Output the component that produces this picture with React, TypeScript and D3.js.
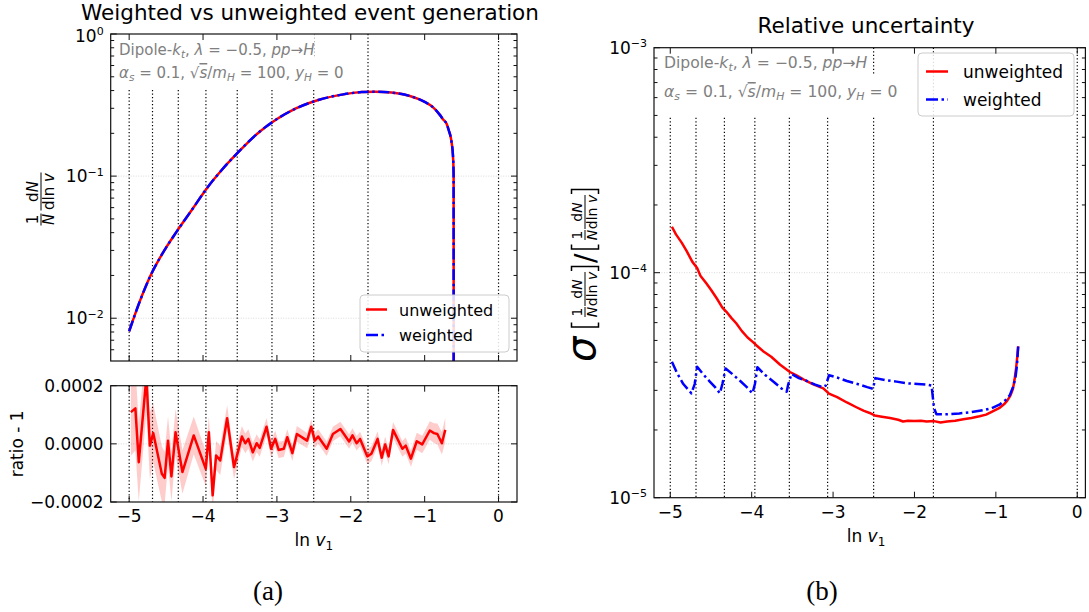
import React from "react";
import * as d3 from "d3";

// ---------------- data ----------------
const divisions = [-5.0, -4.684, -4.335, -3.961, -3.537, -3.067, -2.502, -1.767, 0];
const xTicks = [-5, -4, -3, -2, -1, 0];
const topYMajors = [1, 0.1, 0.01];
const topYExp = ["0", "\u22121", "\u22122"];
const ratioTicks = [-0.0002, 0, 0.0002];
const ratioTickLabels = ["\u22120.0002", "0.0000", "0.0002"];
const rightYMajors = [1e-3, 1e-4, 1e-5];
const rightYExp = ["\u22123", "\u22124", "\u22125"];
const seriesNames = ["unweighted", "weighted"];

// 1/N dN/dln v (both generations lie on top of each other)
const distUnweighted: [number, number][] = [
  [-5.0, 0.0081], [-4.85, 0.0134], [-4.72, 0.0195], [-4.55, 0.0285], [-4.36, 0.0405],
  [-4.15, 0.058], [-3.95, 0.0819], [-3.75, 0.11], [-3.52, 0.148], [-3.27, 0.198],
  [-3.02, 0.248], [-2.75, 0.298], [-2.44, 0.343], [-2.1, 0.376], [-1.85, 0.39],
  [-1.67, 0.393], [-1.45, 0.387], [-1.2, 0.366], [-1.0, 0.333], [-0.889, 0.306],
  [-0.8, 0.272], [-0.743, 0.248], [-0.7, 0.232], [-0.675, 0.211], [-0.64, 0.179],
  [-0.616, 0.137], [-0.608, 0.102], [-0.607, 0.004],
];
const distWeighted: [number, number][] = [
  [-5.0, 0.0081], [-4.85, 0.0134], [-4.72, 0.0195], [-4.55, 0.0285], [-4.36, 0.0405],
  [-4.15, 0.058], [-3.95, 0.0819], [-3.75, 0.11], [-3.52, 0.148], [-3.27, 0.198],
  [-3.02, 0.248], [-2.75, 0.298], [-2.44, 0.343], [-2.1, 0.376], [-1.85, 0.39],
  [-1.67, 0.393], [-1.45, 0.387], [-1.2, 0.366], [-1.0, 0.333], [-0.889, 0.306],
  [-0.8, 0.272], [-0.743, 0.248], [-0.7, 0.232], [-0.675, 0.211], [-0.64, 0.179],
  [-0.616, 0.137], [-0.608, 0.102], [-0.607, 0.004],
];

// ratio - 1 : [ln v, value, uncertainty]
const ratioPoints: [number, number, number][] = [
  [-4.977, 1.09e-4, 1.5e-4], [-4.916, 1.22e-4, 1.45e-4], [-4.87, -0.63e-4, 1.35e-4],
  [-4.767, 2.3e-4, 1.25e-4], [-4.72, -0.06e-4, 1.15e-4], [-4.674, 0.37e-4, 1.0e-4],
  [-4.558, -1.03e-4, 0.95e-4], [-4.52, -1.17e-4, 0.9e-4], [-4.474, 0.11e-4, 0.85e-4],
  [-4.428, -1.12e-4, 0.85e-4], [-4.372, 0.4e-4, 0.8e-4], [-4.279, -0.97e-4, 0.75e-4],
  [-4.126, 0.29e-4, 0.65e-4], [-3.963, -0.86e-4, 0.6e-4], [-3.921, 0.4e-4, 0.55e-4],
  [-3.87, -1.77e-4, 0.55e-4], [-3.823, -0.4e-4, 0.5e-4], [-3.767, -0.57e-4, 0.5e-4],
  [-3.674, 0.88e-4, 0.45e-4], [-3.581, -0.8e-4, 0.42e-4], [-3.474, 0.25e-4, 0.36e-4],
  [-3.428, 0.02e-4, 0.34e-4], [-3.386, 0.17e-4, 0.33e-4], [-3.326, -0.29e-4, 0.32e-4],
  [-3.274, 0.02e-4, 0.31e-4], [-3.233, -0.14e-4, 0.3e-4], [-3.14, 0.59e-4, 0.3e-4],
  [-3.079, -0.17e-4, 0.3e-4], [-3.023, 0.17e-4, 0.28e-4], [-2.977, -0.21e-4, 0.28e-4],
  [-2.907, -0.17e-4, 0.28e-4], [-2.86, 0.23e-4, 0.27e-4], [-2.791, -0.32e-4, 0.27e-4],
  [-2.73, 0.34e-4, 0.27e-4], [-2.628, 0.17e-4, 0.26e-4], [-2.591, 0.11e-4, 0.26e-4],
  [-2.535, 0.59e-4, 0.26e-4], [-2.488, 0.11e-4, 0.26e-4], [-2.442, 0.25e-4, 0.25e-4],
  [-2.326, -0.17e-4, 0.25e-4], [-2.242, 0.34e-4, 0.25e-4], [-2.14, 0.51e-4, 0.25e-4],
  [-2.023, 0.08e-4, 0.25e-4], [-1.977, 0.29e-4, 0.25e-4], [-1.921, 0.02e-4, 0.25e-4],
  [-1.874, 0.17e-4, 0.25e-4], [-1.777, -0.43e-4, 0.26e-4], [-1.721, -0.34e-4, 0.26e-4],
  [-1.637, 0.17e-4, 0.26e-4], [-1.581, -0.48e-4, 0.27e-4], [-1.535, -0.02e-4, 0.27e-4],
  [-1.488, -0.43e-4, 0.27e-4], [-1.428, 0.48e-4, 0.27e-4], [-1.302, -0.17e-4, 0.27e-4],
  [-1.256, -0.06e-4, 0.28e-4], [-1.186, -0.51e-4, 0.28e-4], [-1.107, 0.09e-4, 0.29e-4],
  [-1.033, -0.02e-4, 0.3e-4], [-0.93, 0.46e-4, 0.32e-4], [-0.874, 0.37e-4, 0.34e-4],
  [-0.828, 0.34e-4, 0.36e-4], [-0.767, 0.02e-4, 0.39e-4], [-0.721, 0.48e-4, 0.42e-4],
];

// relative uncertainty
const uncUnweighted: [number, number][] = [
  [-4.98, 1.6e-4], [-4.93, 1.48e-4], [-4.86, 1.36e-4], [-4.8, 1.25e-4], [-4.73, 1.12e-4],
  [-4.67, 1.05e-4], [-4.63, 9.7e-5], [-4.56, 9.0e-5], [-4.5, 8.4e-5], [-4.43, 7.7e-5],
  [-4.36, 7.0e-5], [-4.31, 6.7e-5], [-4.25, 6.3e-5], [-4.19, 5.96e-5], [-4.12, 5.5e-5],
  [-4.05, 5.15e-5], [-3.98, 4.9e-5], [-3.94, 4.75e-5], [-3.85, 4.45e-5], [-3.76, 4.23e-5],
  [-3.65, 3.9e-5], [-3.53, 3.62e-5], [-3.45, 3.5e-5], [-3.36, 3.35e-5], [-3.25, 3.2e-5],
  [-3.12, 3.06e-5], [-3.05, 2.9e-5], [-2.95, 2.8e-5], [-2.83, 2.65e-5], [-2.72, 2.53e-5],
  [-2.62, 2.43e-5], [-2.55, 2.38e-5], [-2.49, 2.32e-5], [-2.4, 2.29e-5], [-2.3, 2.26e-5],
  [-2.2, 2.22e-5], [-2.14, 2.18e-5], [-2.08, 2.2e-5], [-2.0, 2.19e-5], [-1.92, 2.2e-5],
  [-1.85, 2.18e-5], [-1.76, 2.19e-5], [-1.68, 2.16e-5], [-1.6, 2.18e-5], [-1.5, 2.2e-5],
  [-1.4, 2.23e-5], [-1.3, 2.26e-5], [-1.2, 2.3e-5], [-1.12, 2.34e-5], [-1.04, 2.42e-5],
  [-0.96, 2.5e-5], [-0.9, 2.6e-5], [-0.86, 2.7e-5], [-0.82, 2.85e-5], [-0.79, 3.05e-5],
  [-0.77, 3.35e-5], [-0.75, 3.8e-5], [-0.735, 4.3e-5], [-0.726, 4.7e-5],
];
const uncWeighted: [number, number][] = [
  [-4.98, 4.02e-5], [-4.92, 3.6e-5], [-4.84, 3.2e-5], [-4.74, 2.91e-5], [-4.7, 3.2e-5],
  [-4.67, 3.82e-5], [-4.6, 3.55e-5], [-4.52, 3.3e-5], [-4.45, 3.1e-5], [-4.39, 2.91e-5],
  [-4.36, 3.2e-5], [-4.32, 3.75e-5], [-4.24, 3.55e-5], [-4.14, 3.3e-5], [-4.06, 3.1e-5],
  [-3.99, 2.91e-5], [-3.96, 3.2e-5], [-3.93, 3.8e-5], [-3.83, 3.5e-5], [-3.72, 3.25e-5],
  [-3.63, 3.05e-5], [-3.57, 2.96e-5], [-3.55, 3.2e-5], [-3.51, 3.55e-5], [-3.42, 3.4e-5],
  [-3.32, 3.3e-5], [-3.22, 3.18e-5], [-3.13, 3.1e-5], [-3.09, 3.15e-5], [-3.05, 3.5e-5],
  [-2.95, 3.42e-5], [-2.83, 3.3e-5], [-2.7, 3.2e-5], [-2.58, 3.1e-5], [-2.51, 3.05e-5],
  [-2.48, 3.4e-5], [-2.36, 3.33e-5], [-2.22, 3.28e-5], [-2.08, 3.22e-5], [-1.96, 3.2e-5],
  [-1.85, 3.18e-5], [-1.79, 3.15e-5], [-1.76, 2.5e-5], [-1.73, 2.35e-5], [-1.6, 2.35e-5],
  [-1.45, 2.37e-5], [-1.3, 2.4e-5], [-1.15, 2.45e-5], [-1.05, 2.5e-5], [-0.95, 2.6e-5],
  [-0.88, 2.72e-5], [-0.83, 2.85e-5], [-0.79, 3.1e-5], [-0.76, 3.4e-5], [-0.74, 3.9e-5],
  [-0.726, 4.7e-5],
];

// ---------------- layout ----------------
const FONT = "DejaVu Sans, Verdana, sans-serif";
const RED = "#ff0000";
const BLUE = "#0000ff";
const GRAY_TXT = "#808080";
const DASHDOT = "11 3.5 2.5 3.5";
const MAJ = 6;
const MIN = 3.5;

const L = { x0: 110.7, x1: 517, top0: 34, top1: 361, r0: 385.7, r1: 502 };
const R = { x0: 654, x1: 1085.4, y0: 47.7, y1: 497.7 };

function logMinors(lo: number, hi: number): number[] {
  const out: number[] = [];
  for (let e = -6; e <= 1; e++) {
    for (let k = 2; k <= 9; k++) {
      const v = k * Math.pow(10, e);
      if (v > lo * 1.0001 && v < hi * 0.9999) out.push(v);
    }
  }
  return out;
}

function Frac({ cx, num, den, w, fs }: { cx: number; num: React.ReactNode; den: React.ReactNode; w: number; fs: number }) {
  return (
    <g>
      <text x={cx} y={-3} textAnchor="middle" fontSize={fs}>{num}</text>
      <line x1={cx - w / 2} x2={cx + w / 2} y1={0} y2={0} stroke="#000" strokeWidth={1} />
      <text x={cx} y={fs * 0.86} textAnchor="middle" fontSize={fs}>{den}</text>
    </g>
  );
}

function DistFrac({ c1, c2, fs, w1, w2 }: { c1: number; c2: number; fs: number; w1: number; w2: number }) {
  return (
    <g>
      <Frac cx={c1} w={w1} fs={fs} num="1" den={<tspan fontStyle="italic">N</tspan>} />
      <Frac
        cx={c2}
        w={w2}
        fs={fs}
        num={<>d<tspan fontStyle="italic">N</tspan></>}
        den={<>dln <tspan fontStyle="italic">v</tspan></>}
      />
    </g>
  );
}

function Bracket({ x, open }: { x: number; open: boolean }) {
  const h = 13.5;
  const d = open
    ? `M${x + 5.5},${-h} L${x + 1},${-h} L${x + 1},${h} L${x + 5.5},${h}`
    : `M${x + 1},${-h} L${x + 5.5},${-h} L${x + 5.5},${h} L${x + 1},${h}`;
  return <path d={d} fill="none" stroke="#000" strokeWidth={1.5} />;
}

function Annotation({ x, y1, y2, fs }: { x: number; y1: number; y2: number; fs: number }) {
  const sub = fs * 0.7;
  const dy = fs * 0.22;
  return (
    <g fill={GRAY_TXT} fontSize={fs}>
      <text x={x} y={y1}>
        Dipole-<tspan fontStyle="italic">k</tspan>
        <tspan fontStyle="italic" fontSize={sub} dy={dy}>t</tspan>
        <tspan dy={-dy}>{", "}</tspan>
        <tspan fontStyle="italic">λ</tspan>
        <tspan>{" = \u22120.5, "}</tspan>
        <tspan fontStyle="italic">pp</tspan>
        <tspan>→</tspan>
        <tspan fontStyle="italic">H</tspan>
      </text>
      <text x={x} y={y2}>
        <tspan fontStyle="italic">α</tspan>
        <tspan fontStyle="italic" fontSize={sub} dy={dy}>s</tspan>
        <tspan dy={-dy}>{" = 0.1, √"}</tspan>
        <tspan fontStyle="italic" textDecoration="overline">s</tspan>
        <tspan>/</tspan>
        <tspan fontStyle="italic">m</tspan>
        <tspan fontStyle="italic" fontSize={sub} dy={dy}>H</tspan>
        <tspan dy={-dy}>{" = 100, "}</tspan>
        <tspan fontStyle="italic">y</tspan>
        <tspan fontStyle="italic" fontSize={sub} dy={dy}>H</tspan>
        <tspan dy={-dy}>{" = 0"}</tspan>
      </text>
    </g>
  );
}

function XLabel({ cx, y }: { cx: number; y: number }) {
  return (
    <text x={cx} y={y} textAnchor="middle" fontSize={17}>
      ln <tspan fontStyle="italic">v</tspan>
      <tspan fontSize={12} dy={4}>1</tspan>
    </text>
  );
}

function Legend({ x, y, w, h, rowY, fs, lineX0, lineX1, textX }: any) {
  return (
    <g>
      <rect x={x} y={y} width={w} height={h} rx={4} fill="#fff" fillOpacity={0.85} stroke="#cccccc" strokeWidth={1} />
      <line x1={lineX0} x2={lineX1} y1={rowY[0]} y2={rowY[0]} stroke={RED} strokeWidth={2.5} />
      <text x={textX} y={rowY[0] + 6} fontSize={fs}>{seriesNames[0]}</text>
      <line x1={lineX0} x2={lineX1} y1={rowY[1]} y2={rowY[1]} stroke={BLUE} strokeWidth={2.5} strokeDasharray="12 3.5 2.5 3.5" />
      <text x={textX} y={rowY[1] + 6} fontSize={fs}>{seriesNames[1]}</text>
    </g>
  );
}

function LogLabel({ x, y, exp }: { x: number; y: number; exp: string }) {
  return (
    <text x={x} y={y + 6} textAnchor="end" fontSize={17}>
      10<tspan fontSize={11} dy={-6.5}>{exp}</tspan>
    </text>
  );
}

export default function App() {
  const xL = d3.scaleLinear().domain([-5.25, 0.25]).range([L.x0, L.x1]);
  const yTop = d3.scaleLog().domain([5e-3, 1]).range([L.top1, L.top0]);
  const yRat = d3.scaleLinear().domain([-0.0002, 0.0002]).range([L.r1, L.r0]);
  const xR = d3.scaleLinear().domain([-5.2, 0.1]).range([R.x0, R.x1]);
  const yR = d3.scaleLog().domain([1e-5, 1e-3]).range([R.y1, R.y0]);

  const distLine = d3.line<[number, number]>().x((d) => xL(d[0])).y((d) => yTop(d[1])).curve(d3.curveMonotoneX);
  const ratioLine = d3.line<[number, number, number]>().x((d) => xL(d[0])).y((d) => yRat(d[1]));
  const ratioArea = d3
    .area<[number, number, number]>()
    .x((d) => xL(d[0]))
    .y0((d) => yRat(d[1] - d[2]))
    .y1((d) => yRat(d[1] + d[2]));
  const uncLine = d3.line<[number, number]>().x((d) => xR(d[0])).y((d) => yR(d[1]));

  const topMinors = logMinors(5e-3, 1);
  const rightMinors = logMinors(1e-5, 1e-3);

  const frame = (x0: number, x1: number, y0: number, y1: number) => (
    <rect x={x0} y={y0} width={x1 - x0} height={y1 - y0} fill="none" stroke="#111" strokeWidth={1.2} />
  );

  const xTickMarks = (xs: any, y0: number, y1: number, key: string) =>
    xTicks.map((t) => (
      <g key={key + t}>
        <line x1={xs(t)} x2={xs(t)} y1={y1} y2={y1 - MAJ} stroke="#111" strokeWidth={1} />
        <line x1={xs(t)} x2={xs(t)} y1={y0} y2={y0 + MAJ} stroke="#111" strokeWidth={1} />
      </g>
    ));

  const yTickMarks = (ys: any, vals: number[], len: number, x0: number, x1: number, key: string) =>
    vals.map((v) => (
      <g key={key + v}>
        <line x1={x0} x2={x0 + len} y1={ys(v)} y2={ys(v)} stroke="#111" strokeWidth={1} />
        <line x1={x1} x2={x1 - len} y1={ys(v)} y2={ys(v)} stroke="#111" strokeWidth={1} />
      </g>
    ));

  const dotted = (xs: any, y0: number, y1: number, key: string) =>
    divisions.map((d) => (
      <line key={key + d} x1={xs(d)} x2={xs(d)} y1={y0} y2={y1} stroke="#000" strokeWidth={1.2} strokeDasharray="1.3 2.2" />
    ));

  return (
    <svg
      width={1089}
      height={612}
      viewBox="0 0 1089 612"
      style={{ position: "absolute", left: 0, top: 0, background: "#fff" }}
      fontFamily={FONT}
    >
      <defs>
        <clipPath id="clipTop">
          <rect x={L.x0} y={L.top0} width={L.x1 - L.x0} height={L.top1 - L.top0} />
        </clipPath>
        <clipPath id="clipRat">
          <rect x={L.x0} y={L.r0} width={L.x1 - L.x0} height={L.r1 - L.r0} />
        </clipPath>
        <clipPath id="clipR">
          <rect x={R.x0} y={R.y0} width={R.x1 - R.x0} height={R.y1 - R.y0} />
        </clipPath>
      </defs>
      <rect x={0} y={0} width={1089} height={612} fill="#fff" />

      {/* ---------- Left top panel ---------- */}
      <text x={310} y={19.5} textAnchor="middle" fontSize={21.5}>Weighted vs unweighted event generation</text>
      <g clipPath="url(#clipTop)">
        {topYMajors.map((v) => (
          <line key={"gt" + v} x1={L.x0} x2={L.x1} y1={yTop(v)} y2={yTop(v)} stroke="#d0d0d0" strokeWidth={0.8} strokeDasharray="1 1.5" />
        ))}
        {dotted(xL, L.top0, L.top1, "dt")}
        <rect x={L.x0} y={L.top0} width={314 - L.x0} height={58 - L.top0} fill="#fff" />
        <rect x={L.x0} y={58} width={340 - L.x0} height={90 - 58} fill="#fff" />
        <Annotation x={119} y1={55} y2={78} fs={15} />
        <path d={distLine(distUnweighted) || ""} fill="none" stroke={RED} strokeWidth={2.5} />
        <path d={distLine(distWeighted) || ""} fill="none" stroke={BLUE} strokeWidth={2.5} strokeDasharray={DASHDOT} />
      </g>
      <Legend x={360} y={295} w={149} h={57} rowY={[309.5, 335]} fs={16} lineX0={366} lineX1={387} textX={399} />
      {frame(L.x0, L.x1, L.top0, L.top1)}
      {xTickMarks(xL, L.top0, L.top1, "xt")}
      {yTickMarks(yTop, topYMajors, MAJ, L.x0, L.x1, "ytM")}
      {yTickMarks(yTop, topMinors, MIN, L.x0, L.x1, "ytm")}
      {topYMajors.map((v, i) => (
        <LogLabel key={"tl" + v} x={L.x0 - 7} y={yTop(v) + (i === 0 ? 1.5 : 0)} exp={topYExp[i]} />
      ))}
      <g transform={`translate(41, ${(L.top0 + L.top1) / 2}) rotate(-90)`}>
        <DistFrac c1={-22} c2={6} fs={15} w1={12} w2={38} />
      </g>

      {/* ---------- Left ratio panel ---------- */}
      <g clipPath="url(#clipRat)">
        <line x1={L.x0} x2={L.x1} y1={yRat(0)} y2={yRat(0)} stroke="#d0d0d0" strokeWidth={0.8} strokeDasharray="1 1.5" />
        {dotted(xL, L.r0, L.r1, "dr")}
        <path d={ratioArea(ratioPoints) || ""} fill={RED} fillOpacity={0.2} stroke="none" />
        <path d={ratioLine(ratioPoints) || ""} fill="none" stroke={RED} strokeWidth={2.5} strokeLinejoin="round" />
      </g>
      {frame(L.x0, L.x1, L.r0, L.r1)}
      {xTickMarks(xL, L.r0, L.r1, "xr")}
      {yTickMarks(yRat, ratioTicks, MAJ, L.x0, L.x1, "yr")}
      {ratioTicks.map((v, i) => (
        <text key={"rl" + v} x={L.x0 - 7} y={yRat(v) + 6} textAnchor="end" fontSize={17}>{ratioTickLabels[i]}</text>
      ))}
      {xTicks.map((t) => (
        <text key={"xl" + t} x={xL(t)} y={L.r1 + 20} textAnchor="middle" fontSize={17}>
          {t < 0 ? "\u2212" + Math.abs(t) : String(t)}
        </text>
      ))}
      <text transform={`translate(22.5, ${(L.r0 + L.r1) / 2}) rotate(-90)`} textAnchor="middle" fontSize={17}>ratio - 1</text>
      <XLabel cx={(L.x0 + L.x1) / 2} y={546} />

      {/* ---------- Right panel ---------- */}
      <text x={866} y={33} textAnchor="middle" fontSize={21.5}>Relative uncertainty</text>
      <g clipPath="url(#clipR)">
        <line x1={R.x0} x2={R.x1} y1={yR(1e-4)} y2={yR(1e-4)} stroke="#d0d0d0" strokeWidth={0.8} strokeDasharray="1 1.5" />
        {dotted(xR, R.y0, R.y1, "dR")}
        <rect x={R.x0} y={R.y0} width={872 - R.x0} height={74 - R.y0} fill="#fff" />
        <rect x={R.x0} y={74} width={897 - R.x0} height={116 - 74} fill="#fff" />
        <Annotation x={664} y1={68} y2={97} fs={15.6} />
        <path d={uncLine(uncUnweighted) || ""} fill="none" stroke={RED} strokeWidth={2.5} strokeLinejoin="round" />
        <path d={uncLine(uncWeighted) || ""} fill="none" stroke={BLUE} strokeWidth={2.5} strokeDasharray={DASHDOT} strokeLinejoin="round" />
      </g>
      <Legend x={918} y={53} w={156} h={63} rowY={[71.5, 99.5]} fs={17} lineX0={926} lineX1={948} textX={963} />
      {frame(R.x0, R.x1, R.y0, R.y1)}
      {xTickMarks(xR, R.y0, R.y1, "xR")}
      {yTickMarks(yR, rightYMajors, MAJ, R.x0, R.x1, "yRM")}
      {yTickMarks(yR, rightMinors, MIN, R.x0, R.x1, "yRm")}
      {rightYMajors.map((v, i) => (
        <LogLabel key={"Rl" + v} x={R.x0 - 7} y={yR(v)} exp={rightYExp[i]} />
      ))}
      {xTicks.map((t) => (
        <text key={"xR" + t} x={xR(t)} y={R.y1 + 20} textAnchor="middle" fontSize={17}>
          {t < 0 ? "\u2212" + Math.abs(t) : String(t)}
        </text>
      ))}
      <XLabel cx={866} y={542} />
      <g transform={`translate(585, 274) rotate(-90)`}>
        <text x={-88} y={10} fontSize={40} fontStyle="italic">σ</text>
        <Bracket x={-54} open={true} />
        <DistFrac c1={-38} c2={-15} fs={14} w1={10} w2={34} />
        <Bracket x={2} open={false} />
        <text x={11} y={10} fontSize={28}>/</text>
        <Bracket x={24} open={true} />
        <DistFrac c1={39} c2={62} fs={14} w1={10} w2={34} />
        <Bracket x={79} open={false} />
      </g>

      {/* ---------- captions ---------- */}
      <text x={268} y={600} textAnchor="middle" fontSize={27} fontFamily="Liberation Serif, serif">(a)</text>
      <text x={822} y={600} textAnchor="middle" fontSize={27} fontFamily="Liberation Serif, serif">(b)</text>
    </svg>
  );
}
